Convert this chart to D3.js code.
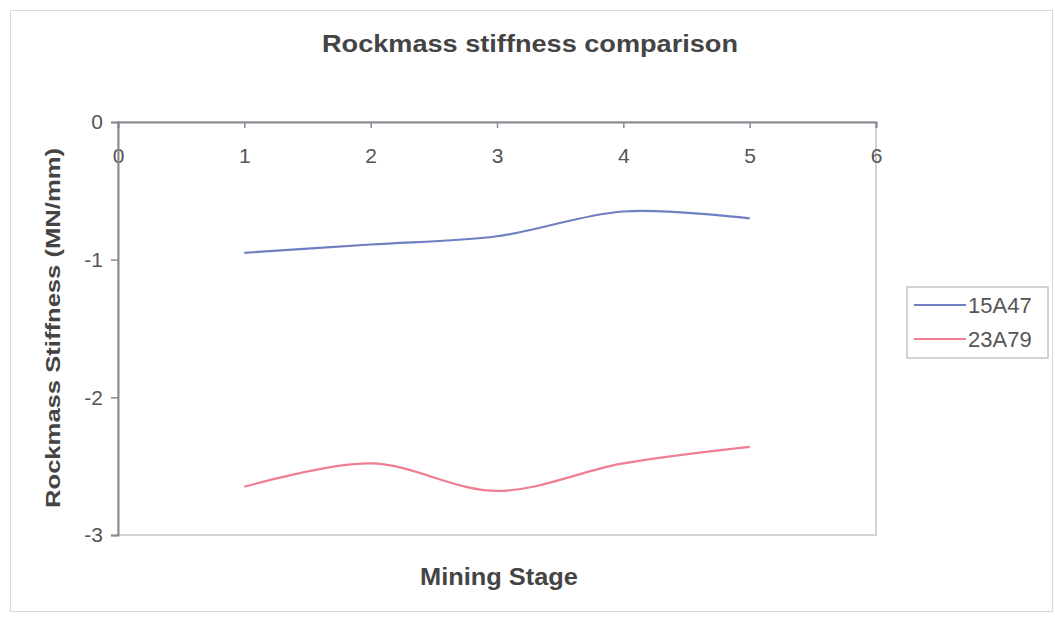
<!DOCTYPE html>
<html>
<head>
<meta charset="utf-8">
<script src="https://cdn.jsdelivr.net/npm/d3@7"></script>
<style>
  html, body { margin: 0; padding: 0; background: #fff; }
  svg { display: block; font-family: "Liberation Sans", Arial, sans-serif; }
</style>
</head>
<body>
<svg id="chart" width="1055" height="618"></svg>
<script>
// ---- data ----
const stages = [1, 2, 3, 4, 5];
const series15A47 = [-0.95, -0.89, -0.83, -0.65, -0.70];
const series23A79 = [-2.65, -2.48, -2.68, -2.48, -2.36];
const seriesNames = ["15A47", "23A79"];
const xTicks = [0, 1, 2, 3, 4, 5, 6];
const yTicks = [0, -1, -2, -3];

const colors = ["#6f7fc2", "#f07e93"];
const seriesList = [series15A47, series23A79];

const svg = d3.select("#chart");
const plot = { left: 118, top: 122, right: 876, bottom: 535 };

// outer border
svg.append("rect").attr("x", 10.5).attr("y", 10.5).attr("width", 1042).attr("height", 601)
  .attr("fill", "#fff").attr("stroke", "#d8d8d8").attr("stroke-width", 1);

const x = d3.scaleLinear().domain([0, 6]).range([plot.left, plot.right]);
const y = d3.scaleLinear().domain([-3, 0]).range([plot.bottom, plot.top]);

// plot area border (right & bottom)
svg.append("rect").attr("x", plot.left).attr("y", plot.top)
  .attr("width", plot.right - plot.left).attr("height", plot.bottom - plot.top)
  .attr("fill", "none").attr("stroke", "#c4c4c8").attr("stroke-width", 1.5);

// x axis at y=0 (top)
const xAxis = svg.append("g").attr("transform", `translate(0,${y(0)})`)
  .call(d3.axisBottom(x).tickValues(xTicks).tickSize(6).tickPadding(20).tickFormat(d => String(d)));
xAxis.select(".domain").attr("stroke", "#8a8a92").attr("stroke-width", 2);
xAxis.selectAll(".tick line").attr("stroke", "#8a8a92").attr("stroke-width", 1.5);
xAxis.selectAll(".tick text").attr("font-size", 21).attr("fill", "#555").attr("font-family", "Liberation Sans, Arial, sans-serif");

// y axis
const yAxis = svg.append("g").attr("transform", `translate(${plot.left},0)`)
  .call(d3.axisLeft(y).tickValues(yTicks).tickSize(7).tickPadding(8).tickFormat(d => String(d)));
yAxis.select(".domain").attr("stroke", "#8a8a92").attr("stroke-width", 2);
yAxis.selectAll(".tick line").attr("stroke", "#8a8a92").attr("stroke-width", 1.5);
yAxis.selectAll(".tick text").attr("font-size", 21).attr("fill", "#555").attr("font-family", "Liberation Sans, Arial, sans-serif");

// lines
const line = d3.line().x((d, i) => x(stages[i])).y(d => y(d)).curve(d3.curveCatmullRom.alpha(0.5));
seriesList.forEach((s, k) => {
  svg.append("path").datum(s).attr("d", line).attr("fill", "none")
    .attr("stroke", colors[k]).attr("stroke-width", 2.2);
});

// title
svg.append("text").attr("x", 530).attr("y", 52).attr("text-anchor", "middle")
  .attr("font-size", 23).attr("font-weight", "bold").attr("fill", "#444")
  .attr("textLength", 416).attr("lengthAdjust", "spacingAndGlyphs")
  .text("Rockmass stiffness comparison");

// x title
svg.append("text").attr("x", 499).attr("y", 585).attr("text-anchor", "middle")
  .attr("font-size", 23).attr("font-weight", "bold").attr("fill", "#444")
  .attr("textLength", 158).attr("lengthAdjust", "spacingAndGlyphs")
  .text("Mining Stage");

// y title
svg.append("text").attr("transform", "translate(60,328) rotate(-90)").attr("text-anchor", "middle")
  .attr("font-size", 21).attr("font-weight", "bold").attr("fill", "#444")
  .attr("textLength", 360).attr("lengthAdjust", "spacingAndGlyphs")
  .text("Rockmass Stiffness (MN/mm)");

// legend
const lg = svg.append("g");
lg.append("rect").attr("x", 907).attr("y", 287).attr("width", 141).attr("height", 71)
  .attr("fill", "#fff").attr("stroke", "#c4c4c8").attr("stroke-width", 1.5);
seriesNames.forEach((n, k) => {
  const yy = 305 + k * 34;
  lg.append("line").attr("x1", 914).attr("x2", 966).attr("y1", yy).attr("y2", yy)
    .attr("stroke", colors[k]).attr("stroke-width", 2.2);
  lg.append("text").attr("x", 968).attr("y", yy).attr("dy", "0.36em")
    .attr("font-size", 22).attr("fill", "#555").text(n);
});
</script>
</body>
</html>
